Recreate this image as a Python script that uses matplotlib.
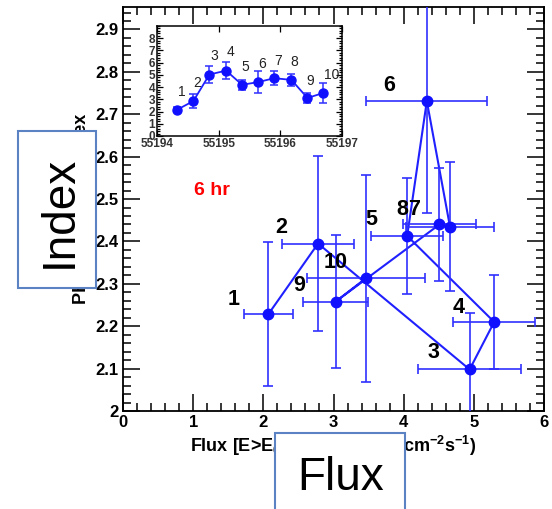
import matplotlib
matplotlib.use("Agg")
from matplotlib import pyplot as plt
from matplotlib.ticker import MultipleLocator, FuncFormatter
from matplotlib.patches import Rectangle

plt.rcParams['font.family'] = ['Liberation Sans', 'DejaVu Sans']
plt.rcParams['mathtext.fontset'] = 'custom'
plt.rcParams['mathtext.rm'] = 'Liberation Sans:bold'
plt.rcParams['mathtext.it'] = 'Liberation Sans:bold'
plt.rcParams['mathtext.bf'] = 'Liberation Sans:bold'

#
# Data: 6 hr bins, flux vs photon index
#

bin_labels = ["1", "2", "3", "4", "5", "6", "7", "8", "9", "10"]
flux = [2.07, 2.78, 4.94, 5.29, 4.05, 4.33, 4.66, 4.51, 3.03, 3.46]
flux_err = [0.35, 0.51, 0.73, 0.58, 0.51, 0.86, 0.63, 0.52, 0.46, 0.84]
index = [2.228, 2.395, 2.098, 2.210, 2.413, 2.731, 2.435, 2.440, 2.258, 2.313]
index_err = [0.17, 0.206, 0.134, 0.11, 0.136, 0.263, 0.153, 0.133, 0.157, 0.244]

# where the bin numbers are written on the main plot
label_x = [1.57, 2.26, 4.42, 4.78, 3.54, 3.80, 4.145, 3.985, 2.51, 3.03]
label_y = [2.262, 2.433, 2.137, 2.244, 2.452, 2.767, 2.476, 2.476, 2.295, 2.350]

# light curve for the inset
mjd = [55194.33, 55194.59, 55194.85, 55195.12, 55195.38,
	55195.64, 55195.90, 55196.18, 55196.44, 55196.69]
lc_flux = [2.16, 2.86, 5.03, 5.35, 4.19, 4.41, 4.73, 4.59, 3.11, 3.51]
lc_err = [0.2, 0.54, 0.70, 0.70, 0.43, 0.88, 0.58, 0.50, 0.43, 0.80]
lc_label_x = [55194.40, 55194.65, 55194.93, 55195.19, 55195.44,
	55195.70, 55195.96, 55196.23, 55196.48, 55196.84]
lc_label_y = [3.63, 4.32, 6.56, 6.86, 5.68, 5.90, 6.17, 6.04, 4.53, 5.00]

W, H = 552, 509
fig = plt.figure(figsize=(W / 100, H / 100), dpi=100)

#
# Main panel
#

ax = fig.add_axes([123 / W, 98 / H, 421 / W, 404 / H])
ax.plot(flux, index, "-", color="#2020ff", linewidth=1.5, zorder=2)
ax.errorbar(flux, index, xerr=flux_err, yerr=index_err, fmt="o", color="#1010ff",
	ecolor="#3030ff", elinewidth=1.2, capsize=3.5, capthick=1.2, markersize=7.5, zorder=3)

for txt, lx, ly in zip(bin_labels, label_x, label_y):
	ax.text(lx, ly, txt, fontsize=15.5, fontweight="bold", ha="center", va="center")

ax.text(0.212, 0.545, "6 hr", transform=ax.transAxes, color="red", fontsize=14,
	fontweight="bold", ha="center", va="center")

ax.set_xlim(0, 6)
ax.set_ylim(2.0, 2.953)
ax.xaxis.set_major_locator(MultipleLocator(1))
ax.xaxis.set_minor_locator(MultipleLocator(0.2))
ax.yaxis.set_major_locator(MultipleLocator(0.1))
ax.yaxis.set_minor_locator(MultipleLocator(0.02))
ax.yaxis.set_major_formatter(FuncFormatter(lambda v, p: "%g" % round(v, 2)))
ax.tick_params(which="both", direction="in", top=True, right=True, width=1.1)
ax.tick_params(which="major", length=12, labelsize=12, pad=3)
ax.tick_params(which="minor", length=6)
for lab in ax.get_xticklabels() + ax.get_yticklabels():
	lab.set_fontweight("bold")
for sp in ax.spines.values():
	sp.set_linewidth(1.3)

ax.set_xlabel("Flux [E>E$_0$] (10$^{-7}$ photon cm$^{-2}$s$^{-1}$)", fontsize=13,
	fontweight="bold", labelpad=3)
ax.set_ylabel("Photon Spectral Index", fontsize=13, fontweight="bold", labelpad=4)

#
# Inset light curve
#

ins = fig.add_axes([157 / W, (H - 136) / H, 185 / W, 110 / H])
ins.plot(mjd, lc_flux, "-", color="#2020ff", linewidth=1.3)
ins.errorbar(mjd, lc_flux, yerr=lc_err, fmt="o", color="#1010ff", ecolor="#3030ff",
	elinewidth=1.1, capsize=3, capthick=1.1, markersize=6.5)
for txt, lx, ly in zip(bin_labels, lc_label_x, lc_label_y):
	ins.text(lx, ly, txt, fontsize=10, color="#222222", ha="center", va="center")
ins.set_xlim(55194, 55197)
ins.set_ylim(0, 9)
ins.xaxis.set_major_locator(MultipleLocator(1))
ins.xaxis.set_major_formatter(FuncFormatter(lambda v, p: "%d" % round(v)))
ins.set_yticks(range(0, 9))
ins.yaxis.set_minor_locator(MultipleLocator(0.2))
ins.tick_params(which="both", direction="in", top=True, right=True, width=0.9)
ins.tick_params(which="major", length=4, labelsize=8.5, pad=1.5, labelcolor="#333333")
ins.tick_params(which="minor", length=2)
for lab in ins.get_xticklabels() + ins.get_yticklabels():
	lab.set_fontweight("bold")
for sp in ins.spines.values():
	sp.set_linewidth(1.1)

#
# Boxed captions on top of the axis titles
#

box_col = "#5b82c2"
fig.patches.append(Rectangle((18 / W, (H - 288) / H), 78 / W, 157 / H,
	transform=fig.transFigure, facecolor="white", edgecolor=box_col, linewidth=1.5, zorder=10))
fig.text(60 / W, (H - 212) / H, "Index", rotation=90, fontsize=33, ha="center", va="center",
	zorder=11)

fig.patches.append(Rectangle((275 / W, -0.02), 130 / W, (H - 433) / H + 0.02,
	transform=fig.transFigure, facecolor="white", edgecolor=box_col, linewidth=1.5, zorder=10))
fig.text(341 / W, (H - 490) / H, "Flux", fontsize=33, ha="center", va="baseline", zorder=11)

plt.savefig("out.png", dpi=100)
